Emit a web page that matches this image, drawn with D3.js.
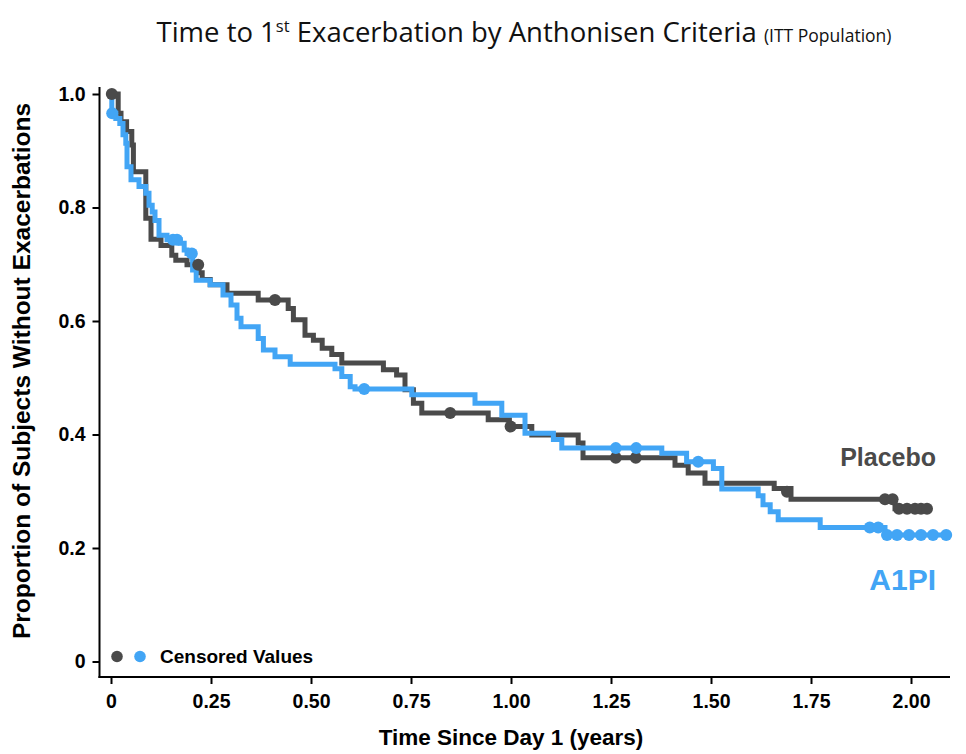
<!DOCTYPE html>
<html>
<head>
<meta charset="utf-8">
<script src="https://cdn.jsdelivr.net/npm/d3@7"></script>
<style>
  body { margin: 0; background: #fff; }
  svg { display: block; }
</style>
</head>
<body>
<svg width="966" height="754"></svg>
<script>
// step points [years, proportion]
var placeboSteps = [
  [0, 1.0], [0.018, 0.966], [0.025, 0.951], [0.039, 0.934], [0.052, 0.910],
  [0.056, 0.863], [0.087, 0.781], [0.100, 0.744], [0.125, 0.733], [0.152, 0.716],
  [0.162, 0.707], [0.190, 0.699], [0.220, 0.685], [0.228, 0.673], [0.248, 0.664],
  [0.290, 0.649], [0.368, 0.637], [0.443, 0.622], [0.456, 0.602], [0.485, 0.575],
  [0.506, 0.566], [0.528, 0.552], [0.552, 0.541], [0.577, 0.526], [0.681, 0.514],
  [0.714, 0.505], [0.735, 0.479], [0.756, 0.455], [0.777, 0.438], [0.943, 0.426],
  [0.996, 0.414], [1.052, 0.399], [1.168, 0.385], [1.180, 0.359], [1.410, 0.346],
  [1.443, 0.332], [1.485, 0.314], [1.658, 0.305], [1.700, 0.286], [1.960, 0.269],
  [2.040, 0.269]
];
var placeboCensored = [
  [0.002, 1.0], [0.218, 0.699], [0.410, 0.637], [0.848, 0.438], [0.999, 0.414],
  [1.262, 0.359], [1.312, 0.359], [1.690, 0.299], [1.935, 0.286], [1.954, 0.286],
  [1.970, 0.269], [1.990, 0.269], [2.010, 0.269], [2.025, 0.269], [2.040, 0.269]
];

var a1piSteps = [
  [0, 1.0], [0.002, 0.966], [0.012, 0.957], [0.022, 0.948], [0.030, 0.928],
  [0.037, 0.913], [0.040, 0.872], [0.050, 0.849], [0.070, 0.837], [0.087, 0.825],
  [0.095, 0.804], [0.103, 0.792], [0.110, 0.777], [0.120, 0.751], [0.140, 0.743],
  [0.173, 0.737], [0.183, 0.725], [0.190, 0.719], [0.204, 0.690], [0.213, 0.672],
  [0.248, 0.664], [0.280, 0.646], [0.300, 0.628], [0.315, 0.605], [0.325, 0.590],
  [0.368, 0.569], [0.381, 0.549], [0.410, 0.537], [0.448, 0.524], [0.560, 0.516],
  [0.577, 0.502], [0.598, 0.484], [0.610, 0.480], [0.752, 0.470], [0.910, 0.455],
  [0.977, 0.434], [1.035, 0.402], [1.106, 0.391], [1.127, 0.376], [1.377, 0.367],
  [1.439, 0.352], [1.506, 0.340], [1.527, 0.304], [1.618, 0.292], [1.630, 0.276],
  [1.648, 0.264], [1.668, 0.250], [1.773, 0.236], [1.935, 0.223], [2.088, 0.223]
];
var a1piCensored = [
  [0.003, 0.966], [0.155, 0.743], [0.165, 0.743], [0.202, 0.719], [0.633, 0.480],
  [1.262, 0.376], [1.313, 0.376], [1.468, 0.352], [1.897, 0.236], [1.918, 0.236],
  [1.940, 0.223], [1.965, 0.223], [1.995, 0.223], [2.025, 0.223], [2.055, 0.223],
  [2.088, 0.223]
];

var xTicks = [0, 0.25, 0.5, 0.75, 1.0, 1.25, 1.5, 1.75, 2.0];
var xTickLabels = ["0", "0.25", "0.50", "0.75", "1.00", "1.25", "1.50", "1.75", "2.00"];
var yTicks = [0, 0.2, 0.4, 0.6, 0.8, 1.0];
var yTickLabels = ["0", "0.2", "0.4", "0.6", "0.8", "1.0"];

var darkCol = "#4a4a4a";
var blueCol = "#42a5f5";

var svg = d3.select("svg");

var x = d3.scaleLinear().domain([0, 2]).range([111, 911]);
var y = d3.scaleLinear().domain([0, 1]).range([661.5, 94]);

var axisFont = "Liberation Sans, Arial, sans-serif";

// title
var title = svg.append("text")
  .attr("x", 524).attr("y", 42)
  .attr("text-anchor", "middle")
  .style("font-family", "Open Sans, sans-serif")
  .style("font-size", "27.5px")
  .attr("fill", "#111");
title.append("tspan").text("Time to 1");
title.append("tspan").attr("dy", -10).style("font-size", "16.5px").text("st");
title.append("tspan").attr("dy", 10).text(" Exacerbation by Anthonisen Criteria ");
title.append("tspan").style("font-size", "17.5px").text("(ITT Population)");

// axes
var xAxis = svg.append("g")
  .attr("transform", "translate(0,677)")
  .call(d3.axisBottom(x).tickValues(xTicks).tickSize(7).tickSizeOuter(0)
    .tickFormat(function(d, i) { return xTickLabels[i]; }));
xAxis.select(".domain").remove();
xAxis.selectAll(".tick line").attr("stroke", "#000").attr("stroke-width", 2);
xAxis.selectAll(".tick text")
  .attr("y", 0).attr("dy", 0)
  .attr("transform", "translate(0,31)")
  .style("font-family", axisFont).style("font-size", "19.5px").style("font-weight", "bold")
  .attr("fill", "#000");

var yAxis = svg.append("g")
  .attr("transform", "translate(99.5,0)")
  .call(d3.axisLeft(y).tickValues(yTicks).tickSize(7).tickSizeOuter(0)
    .tickFormat(function(d, i) { return yTickLabels[i]; }));
yAxis.select(".domain").remove();
yAxis.selectAll(".tick line").attr("stroke", "#000").attr("stroke-width", 2);
yAxis.selectAll(".tick text")
  .attr("x", -14)
  .style("font-family", axisFont).style("font-size", "19.5px").style("font-weight", "bold")
  .attr("fill", "#000");

svg.append("line").attr("x1", 99.5).attr("x2", 99.5).attr("y1", 87).attr("y2", 678)
  .attr("stroke", "#000").attr("stroke-width", 2);
svg.append("line").attr("x1", 98.5).attr("x2", 950).attr("y1", 677).attr("y2", 677)
  .attr("stroke", "#000").attr("stroke-width", 2);

// axis titles
svg.append("text")
  .attr("transform", "translate(30,371) rotate(-90)")
  .attr("text-anchor", "middle")
  .style("font-family", axisFont).style("font-size", "24.5px").style("font-weight", "bold")
  .attr("fill", "#000")
  .text("Proportion of Subjects Without Exacerbations");

svg.append("text")
  .attr("x", 511).attr("y", 745)
  .attr("text-anchor", "middle")
  .style("font-family", axisFont).style("font-size", "22.5px").style("font-weight", "bold")
  .attr("fill", "#000")
  .text("Time Since Day 1 (years)");

// curves
var line = d3.line()
  .x(function(d) { return x(d[0]); })
  .y(function(d) { return y(d[1]); })
  .curve(d3.curveStepAfter);

svg.append("path").datum(placeboSteps)
  .attr("d", line).attr("fill", "none")
  .attr("stroke", darkCol).attr("stroke-width", 5);
svg.append("path").datum(a1piSteps)
  .attr("d", line).attr("fill", "none")
  .attr("stroke", blueCol).attr("stroke-width", 5);

svg.append("g").selectAll("circle").data(placeboCensored).enter().append("circle")
  .attr("cx", function(d) { return x(d[0]); })
  .attr("cy", function(d) { return y(d[1]); })
  .attr("r", 6).attr("fill", darkCol);
svg.append("g").selectAll("circle").data(a1piCensored).enter().append("circle")
  .attr("cx", function(d) { return x(d[0]); })
  .attr("cy", function(d) { return y(d[1]); })
  .attr("r", 6).attr("fill", blueCol);

// series labels
svg.append("text")
  .attr("x", 936).attr("y", 466).attr("text-anchor", "end")
  .style("font-family", axisFont).style("font-size", "25px").style("font-weight", "bold")
  .attr("fill", darkCol).text("Placebo");
svg.append("text")
  .attr("x", 936).attr("y", 590).attr("text-anchor", "end")
  .style("font-family", axisFont).style("font-size", "30px").style("font-weight", "bold")
  .attr("fill", blueCol).text("A1PI");

// legend
svg.append("circle").attr("cx", 117).attr("cy", 656.5).attr("r", 5.8).attr("fill", darkCol);
svg.append("circle").attr("cx", 140).attr("cy", 656.5).attr("r", 5.8).attr("fill", blueCol);
svg.append("text")
  .attr("x", 160).attr("y", 663)
  .style("font-family", axisFont).style("font-size", "19px").style("font-weight", "bold")
  .attr("fill", "#000").text("Censored Values");
</script>
</body>
</html>
